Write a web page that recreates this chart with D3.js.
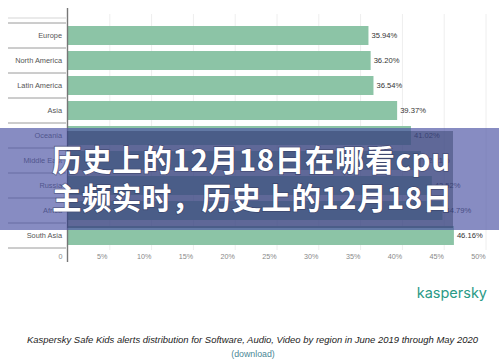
<!DOCTYPE html>
<html>
<head>
<meta charset="utf-8">
<script src="https://cdn.jsdelivr.net/npm/d3@7"></script>
<style>
html,body{margin:0;padding:0;background:#fff;}
svg{display:block;}
</style>
</head>
<body>
<svg id="c" width="499" height="362"></svg>
<script>
const categories = ["Europe","North America","Latin America","Asia","Oceania","Middle East","Russia","Africa","South Asia"];
const values = [35.94, 36.20, 36.54, 39.37, 41.02, 42.21, 43.52, 44.79, 46.16];
const tickValues = [0,5,10,15,20,25,30,35,40,45,50];
const tickLabels = ["0","5%","10%","15%","20%","25%","30%","35%","40%","45%","50%"];
const titleLines = ["历史上的12月18日在哪看cpu","主频实时，历史上的12月18日"];
const caption = "Kaspersky Safe Kids alerts distribution for Software, Audio, Video by region in June 2019 through May 2020";
const linkText = "(download)";
const brand = "kaspersky";

const svg = d3.select("#c");
const x = d3.scaleLinear().domain([0,50]).range([68,486]);
const y = d3.scaleBand().domain(categories).range([23,248]).paddingInner(0.24).paddingOuter(0.12);

// faint gridlines
svg.append("g").selectAll("line").data(tickValues.slice(1)).join("line")
  .attr("x1", d=>x(d)).attr("x2", d=>x(d)).attr("y1", 14).attr("y2", 250)
  .attr("stroke", "#eeeeee").attr("stroke-width", 1);

// row separators in label column
const step = y.step();
const bounds = d3.range(categories.length+1).map(i => 23 + i*step);
svg.append("g").selectAll("line").data(bounds).join("line")
  .attr("x1", 8).attr("x2", 66).attr("y1", d=>d).attr("y2", d=>d)
  .attr("stroke", "#9a9a9a").attr("stroke-width", 1);
svg.append("line").attr("x1",8).attr("x2",66).attr("y1",18).attr("y2",18).attr("stroke","#d5d5d5");

// bars
svg.append("g").selectAll("rect").data(values).join("rect")
  .attr("x", x(0)).attr("y", (d,i)=>y(categories[i]))
  .attr("width", d=>x(d)-x(0)).attr("height", y.bandwidth())
  .attr("fill", "#8cc4a6");

// value labels
svg.append("g").selectAll("text").data(values).join("text")
  .attr("x", d=>x(d)+3).attr("y", (d,i)=>y(categories[i])+y.bandwidth()/2+2.6)
  .attr("font-family","Liberation Sans, Arial, sans-serif").attr("font-size",7.6)
  .attr("fill","#333").text(d=>d.toFixed(2)+"%");

// category labels
svg.append("g").selectAll("text").data(categories).join("text")
  .attr("x", 62).attr("y", d=>y(d)+y.bandwidth()/2+2.6)
  .attr("text-anchor","end")
  .attr("font-family","Liberation Sans, Arial, sans-serif").attr("font-size",7.4)
  .attr("fill","#555").text(d=>d);

// vertical axis line
svg.append("line").attr("x1",67.5).attr("x2",67.5).attr("y1",8).attr("y2",262)
  .attr("stroke","#777").attr("stroke-width",1.4);

// x axis tick labels
const xAxis = d3.axisBottom(x).tickValues(tickValues).tickSize(0).tickFormat((d,i)=>tickLabels[i]);
const gx = svg.append("g").attr("transform","translate(-8,250)").call(xAxis);
gx.select(".domain").remove();
gx.selectAll("text").attr("font-family","Liberation Sans, Arial, sans-serif")
  .attr("font-size",7.2).attr("fill","#888").attr("dy","0.9em");

// overlay band
svg.append("rect").attr("x",0).attr("y",128).attr("width",499).attr("height",102)
  .attr("fill","rgba(78,86,165,0.68)");
svg.append("rect").attr("x",67).attr("y",131).attr("width",386).attr("height",97)
  .attr("fill","rgba(40,55,95,0.42)");

// title text
svg.append("g").selectAll("text").data(titleLines).join("text")
  .attr("x", 52).attr("y", (d,i)=> i===0 ? 171 : 209)
  .attr("textLength", (d,i)=> i===0 ? 398 : 400).attr("lengthAdjust","spacing")
  .attr("font-family","Noto Sans CJK SC, sans-serif").attr("font-weight","bold")
  .attr("font-size",29.5).attr("fill","#ffffff")
  .attr("stroke","rgba(50,55,90,0.55)").attr("stroke-width",1.6).attr("paint-order","stroke")
  .text(d=>d);

// brand
svg.append("text").attr("x",487).attr("y",298).attr("text-anchor","end")
  .attr("font-family","Inter, Roboto, sans-serif").attr("font-size",14.5)
  .attr("fill","#2a9a86").text(brand);

// caption
svg.append("text").attr("x",27).attr("y",343)
  .attr("textLength",451).attr("lengthAdjust","spacingAndGlyphs")
  .attr("font-family","Liberation Sans, Arial, sans-serif").attr("font-style","italic")
  .attr("font-size",8.8).attr("fill","#222").text(caption);

svg.append("text").attr("x",253).attr("y",357).attr("text-anchor","middle")
  .attr("font-family","Liberation Sans, Arial, sans-serif").attr("font-size",8.8)
  .attr("fill","#4b8796").text(linkText);
</script>
</body>
</html>
